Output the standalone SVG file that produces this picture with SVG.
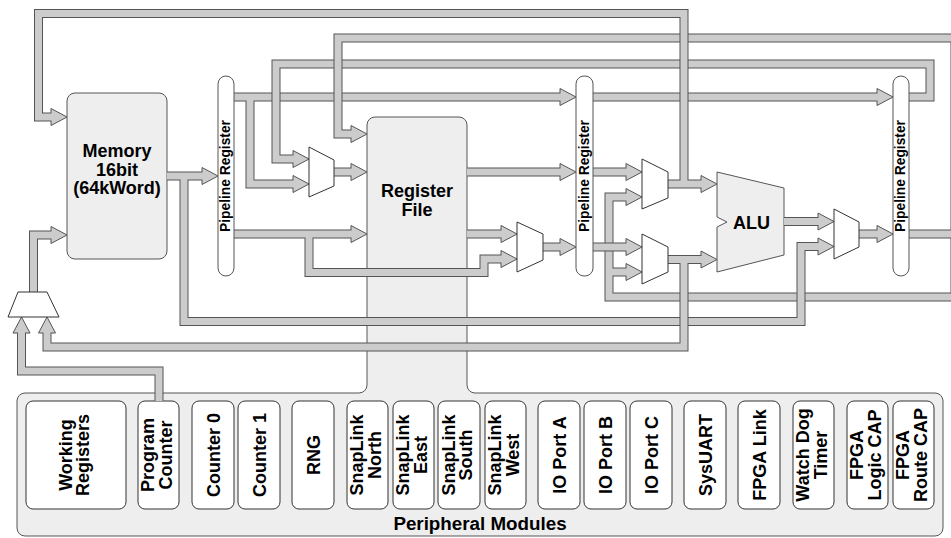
<svg xmlns="http://www.w3.org/2000/svg" width="951" height="538" viewBox="0 0 951 538">
<style>
text{font-family:"Liberation Sans",Arial,Helvetica,sans-serif;font-weight:bold;fill:#000}
.t18{font-size:18px;text-anchor:middle}
.pr{font-size:13.8px;text-anchor:middle}
.o{fill:none;stroke:#555;stroke-width:9;stroke-linejoin:miter}
.f{fill:none;stroke:#ccc;stroke-width:7;stroke-linejoin:miter}
.h{fill:#ccc;stroke:#555;stroke-width:1;stroke-linejoin:miter}
.blk{fill:#eeeeee;stroke:#555;stroke-width:1}
.mod{fill:#fff;stroke:#333;stroke-width:1}
.mux{fill:#fff;stroke:#333;stroke-width:1}
.preg{fill:#fff;stroke:#555;stroke-width:1}
</style>
<rect x="0" y="0" width="951" height="538" fill="#fff"/>

<g id="regfile-peripherals">
<path class="blk" d="M25,393 H359 A8 8 0 0 0 367,385 V125 A8 8 0 0 1 375,117 H459 A8 8 0 0 1 467,125 V385 A8 8 0 0 0 475,393 H935 A8 8 0 0 1 943,401 V528 A8 8 0 0 1 935,536 H25 A8 8 0 0 1 17,528 V401 A8 8 0 0 1 25,393 Z"/>
<text class="t18" x="417" y="197">Register</text>
<text class="t18" x="417" y="215.5">File</text>
<text class="t18" x="480" y="530" style="font-size:18.8px">Peripheral Modules</text>
</g>

<g id="memory">
<rect class="blk" x="67" y="93" width="100" height="166" rx="8"/>
<text class="t18" x="117" y="157">Memory</text>
<text class="t18" x="117" y="175.5">16bit</text>
<text class="t18" x="117" y="194">(64kWord)</text>
</g>

<g id="alu">
<polygon class="blk" points="717,172 784,188 784,255 717,272 717,227 727,222 717,217"/>
<text class="t18" x="751.5" y="228.5">ALU</text>
</g>

<g id="mod-working-registers"><rect class="mod" x="26" y="401" width="100" height="108" rx="7"/>
<text class="t18" transform="translate(71.5,455) rotate(-90)">Working</text>
<text class="t18" transform="translate(89,455) rotate(-90)">Registers</text></g>
<g id="mod-program-counter"><rect class="mod" x="138" y="401" width="41" height="108" rx="7"/>
<text class="t18" transform="translate(154,455) rotate(-90)">Program</text>
<text class="t18" transform="translate(171.5,455) rotate(-90)">Counter</text></g>
<g id="mod-counter0"><rect class="mod" x="192" y="401" width="42" height="108" rx="7"/>
<text class="t18" transform="translate(219.5,455) rotate(-90)">Counter 0</text></g>
<g id="mod-counter1"><rect class="mod" x="238" y="401" width="42" height="108" rx="7"/>
<text class="t18" transform="translate(265.5,455) rotate(-90)">Counter 1</text></g>
<g id="mod-rng"><rect class="mod" x="292" y="401" width="42" height="108" rx="7"/>
<text class="t18" transform="translate(319.5,455) rotate(-90)">RNG</text></g>
<g id="mod-snaplink-north"><rect class="mod" x="347" y="401" width="41" height="108" rx="7"/>
<text class="t18" transform="translate(363,455) rotate(-90)">SnapLink</text>
<text class="t18" transform="translate(380.5,455) rotate(-90)">North</text></g>
<g id="mod-snaplink-east"><rect class="mod" x="393" y="401" width="41" height="108" rx="7"/>
<text class="t18" transform="translate(409,455) rotate(-90)">SnapLink</text>
<text class="t18" transform="translate(426.5,455) rotate(-90)">East</text></g>
<g id="mod-snaplink-south"><rect class="mod" x="438" y="401" width="42" height="108" rx="7"/>
<text class="t18" transform="translate(454.5,455) rotate(-90)">SnapLink</text>
<text class="t18" transform="translate(472,455) rotate(-90)">South</text></g>
<g id="mod-snaplink-west"><rect class="mod" x="485" y="401" width="41" height="108" rx="7"/>
<text class="t18" transform="translate(501,455) rotate(-90)">SnapLink</text>
<text class="t18" transform="translate(518.5,455) rotate(-90)">West</text></g>
<g id="mod-io-port-a"><rect class="mod" x="538" y="401" width="42" height="108" rx="7"/>
<text class="t18" transform="translate(565.5,455) rotate(-90)">IO Port A</text></g>
<g id="mod-io-port-b"><rect class="mod" x="584" y="401" width="42" height="108" rx="7"/>
<text class="t18" transform="translate(611.5,455) rotate(-90)">IO Port B</text></g>
<g id="mod-io-port-c"><rect class="mod" x="630" y="401" width="42" height="108" rx="7"/>
<text class="t18" transform="translate(657.5,455) rotate(-90)">IO Port C</text></g>
<g id="mod-sysuart"><rect class="mod" x="684" y="401" width="42" height="108" rx="7"/>
<text class="t18" transform="translate(711.5,455) rotate(-90)">SysUART</text></g>
<g id="mod-fpga-link"><rect class="mod" x="738" y="401" width="42" height="108" rx="7"/>
<text class="t18" transform="translate(765.5,455) rotate(-90)">FPGA Link</text></g>
<g id="mod-watchdog"><rect class="mod" x="793" y="401" width="41" height="108" rx="7"/>
<text class="t18" transform="translate(809,455) rotate(-90)">Watch Dog</text>
<text class="t18" transform="translate(826.5,455) rotate(-90)">Timer</text></g>
<g id="mod-fpga-logic-cap"><rect class="mod" x="847" y="401" width="41" height="108" rx="7"/>
<text class="t18" transform="translate(863,455) rotate(-90)">FPGA</text>
<text class="t18" transform="translate(880.5,455) rotate(-90)">Logic CAP</text></g>
<g id="mod-fpga-route-cap"><rect class="mod" x="893" y="401" width="41" height="108" rx="7"/>
<text class="t18" transform="translate(909,455) rotate(-90)">FPGA</text>
<text class="t18" transform="translate(926.5,455) rotate(-90)">Route CAP</text></g>

<g id="connectors">
<g id="bus-k"><path class="o" d="M234,97 H561 M250,97 V184 H294"/>
<polygon class="h" points="560,88.5 576,97 560,105.5"/><polygon class="h" points="293,175.5 309,184 293,192.5"/>
<path class="f" d="M234,97 H561 M250,97 V184 H294"/></g>
<g id="bus-k2"><path class="o" d="M593,97 H878"/>
<polygon class="h" points="877,88.5 893,97 877,105.5"/>
<path class="f" d="M593,97 H878"/></g>
<g id="bus-a"><path class="o" d="M909,97 H930 V64 H276 V159 H294"/>
<polygon class="h" points="293,150.5 309,159 293,167.5"/>
<path class="f" d="M909,97 H930 V64 H276 V159 H294"/></g>
<g id="bus-b"><path class="o" d="M909,234 H955 V38 H338 V134 H352 M955,234 V297 H609 V197 H627 M609,272 H627"/>
<polygon class="h" points="351,125.5 367,134 351,142.5"/><polygon class="h" points="626,188.5 642,197 626,205.5"/><polygon class="h" points="626,263.5 642,272 626,280.5"/>
<path class="f" d="M909,234 H955 V38 H338 V134 H352 M955,234 V297 H609 V197 H627 M609,272 H627"/></g>
<g id="bus-l"><path class="o" d="M167,176 H203 M184,176 V321.5 H801 V246.5 H819"/>
<polygon class="h" points="202,167.5 218,176 202,184.5"/><polygon class="h" points="818,238 834,246.5 818,255"/>
<path class="f" d="M167,176 H203 M184,176 V321.5 H801 V246.5 H819"/></g>
<g id="bus-t"><path class="o" d="M668,184 H702 M684,184 V13.5 H38.5 V117 H52"/>
<polygon class="h" points="701,175.5 717,184 701,192.5"/><polygon class="h" points="51,108.5 67,117 51,125.5"/>
<path class="f" d="M668,184 H702 M684,184 V13.5 H38.5 V117 H52"/></g>
<g id="bus-m"><path class="o" d="M668,259.5 H702 M684,259.5 V347 H47 V332"/>
<polygon class="h" points="701,251 717,259.5 701,268"/><polygon class="h" points="38.5,333 47,317 55.5,333"/>
<path class="f" d="M668,259.5 H702 M684,259.5 V347 H47 V332"/></g>
<g id="bus-n"><path class="o" d="M159,401 V371 H21.5 V332"/>
<polygon class="h" points="13,333 21.5,317 30,333"/>
<path class="f" d="M159,401 V371 H21.5 V332"/></g>
<g id="bus-o"><path class="o" d="M33.5,292 V235 H52"/>
<polygon class="h" points="51,226.5 67,235 51,243.5"/>
<path class="f" d="M33.5,292 V235 H52"/></g>
<g id="bus-c"><path class="o" d="M467,172 H561"/>
<polygon class="h" points="560,163.5 576,172 560,180.5"/>
<path class="f" d="M467,172 H561"/></g>
<g id="bus-c2"><path class="o" d="M593,172 H627"/>
<polygon class="h" points="626,163.5 642,172 626,180.5"/>
<path class="f" d="M593,172 H627"/></g>
<g id="bus-d"><path class="o" d="M467,234 H502"/>
<polygon class="h" points="501,225.5 517,234 501,242.5"/>
<path class="f" d="M467,234 H502"/></g>
<g id="bus-e"><path class="o" d="M234,234 H352 M309,234 V272.5 H484 V259 H502"/>
<polygon class="h" points="351,225.5 367,234 351,242.5"/><polygon class="h" points="501,250.5 517,259 501,267.5"/>
<path class="f" d="M234,234 H352 M309,234 V272.5 H484 V259 H502"/></g>
<g id="bus-f"><path class="o" d="M334,172 H352"/>
<polygon class="h" points="351,163.5 367,172 351,180.5"/>
<path class="f" d="M334,172 H352"/></g>
<g id="bus-g"><path class="o" d="M543,247 H561"/>
<polygon class="h" points="560,238.5 576,247 560,255.5"/>
<path class="f" d="M543,247 H561"/></g>
<g id="bus-h"><path class="o" d="M593,247 H627"/>
<polygon class="h" points="626,238.5 642,247 626,255.5"/>
<path class="f" d="M593,247 H627"/></g>
<g id="bus-i"><path class="o" d="M859,234 H878"/>
<polygon class="h" points="877,225.5 893,234 877,242.5"/>
<path class="f" d="M859,234 H878"/></g>
<g id="bus-j"><path class="o" d="M784,221.5 H819"/>
<polygon class="h" points="818,213 834,221.5 818,230"/>
<path class="f" d="M784,221.5 H819"/></g>
</g>

<g id="pipeline-register-1"><rect class="preg" x="218" y="76" width="16" height="200" rx="8"/>
<text class="pr" transform="translate(229.5,176) rotate(-90)">Pipeline Register</text></g>
<g id="pipeline-register-2"><rect class="preg" x="576" y="76" width="17" height="200" rx="8"/>
<text class="pr" transform="translate(588.5,176) rotate(-90)">Pipeline Register</text></g>
<g id="pipeline-register-3"><rect class="preg" x="893" y="76" width="16" height="200" rx="8"/>
<text class="pr" transform="translate(904.5,176) rotate(-90)">Pipeline Register</text></g>

<g id="mux-a"><polygon class="mux" points="309,147 334,160 334,186 309,197"/></g>
<g id="mux-b"><polygon class="mux" points="517,222 543,234 543,260 517,272"/></g>
<g id="mux-c"><polygon class="mux" points="642,159 668,172 668,198 642,209"/></g>
<g id="mux-d"><polygon class="mux" points="642,234 668,247 668,272 642,284"/></g>
<g id="mux-e"><polygon class="mux" points="834,209 859,222 859,247 834,259"/></g>
<g id="mux-f"><polygon class="mux" points="18,292 47,292 59,317 8,317"/></g>
</svg>
